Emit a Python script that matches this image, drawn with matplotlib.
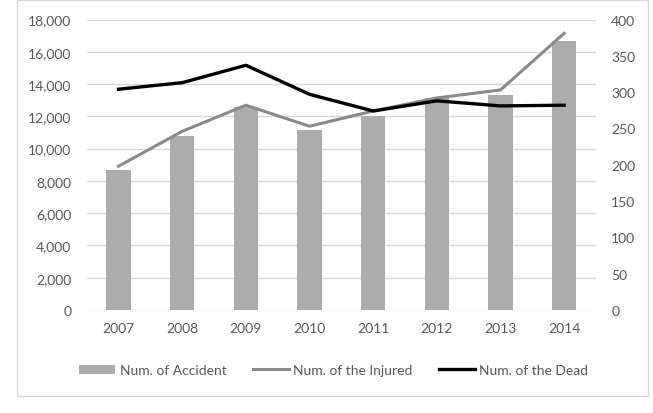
import matplotlib
matplotlib.use("Agg")
import matplotlib.pyplot as plt
from matplotlib.patches import Rectangle
from matplotlib.ticker import FuncFormatter

plt.rcParams['font.family'] = ['Lato', 'DejaVu Sans']

years = ['2007', '2008', '2009', '2010', '2011', '2012', '2013', '2014']
accidents = [8700, 10800, 12600, 11150, 12050, 13150, 13300, 16650]
injured = [198, 246, 282, 253, 274, 292, 303, 381]
dead = [304, 313, 337, 297, 274, 288, 281, 282]

text_color = '#595959'
grid_color = '#d9d9d9'

fig = plt.figure(figsize=(6.53, 4.14), dpi=100)
fig.patches.append(Rectangle((17 / 653, 1 - 397 / 414), 631 / 653, 396 / 414,
                             transform=fig.transFigure, fill=False,
                             edgecolor=grid_color, linewidth=1))

ax = fig.add_axes([86.7 / 653, 1 - 311 / 414, (596 - 86.7) / 653, (311 - 20.5) / 414])
ax2 = ax.twinx()

x = range(len(years))
bars = ax.bar(x, accidents, width=0.38, color='#acacac', label='Num. of Accident', zorder=2)
l1, = ax2.plot(x, injured, color='#8a8a8a', linewidth=2.2, label='Num. of the Injured')
l2, = ax2.plot(x, dead, color='black', linewidth=2.4, label='Num. of the Dead')

ax.set_xlim(-0.5, len(years) - 0.5)
ax.set_ylim(0, 18000)
ax.set_yticks(range(0, 18001, 2000))
ax.yaxis.set_major_formatter(FuncFormatter(lambda v, p: f'{int(v):,}'))
ax2.set_ylim(0, 400)
ax2.set_yticks(range(0, 401, 50))
ax.set_xticks(list(x))
ax.set_xticklabels(years)

ax.grid(axis='y', color=grid_color, linewidth=1, zorder=0)
ax.set_axisbelow(True)
for a in (ax, ax2):
    for s in a.spines.values():
        s.set_visible(False)
    a.tick_params(length=0, labelsize=10, labelcolor=text_color)
ax.tick_params(axis='y', pad=11)
ax.tick_params(axis='x', pad=9)
ax2.tick_params(axis='y', pad=11)

fig.legend(handles=[bars, l1, l2], loc='center', bbox_to_anchor=(0.511, 1 - 371 / 414),
           ncol=3, frameon=False, fontsize=10, labelcolor=text_color,
           handlelength=2.6, handleheight=0.6, handletextpad=0.3, columnspacing=1.9)

fig.savefig('out.png', dpi=100)
